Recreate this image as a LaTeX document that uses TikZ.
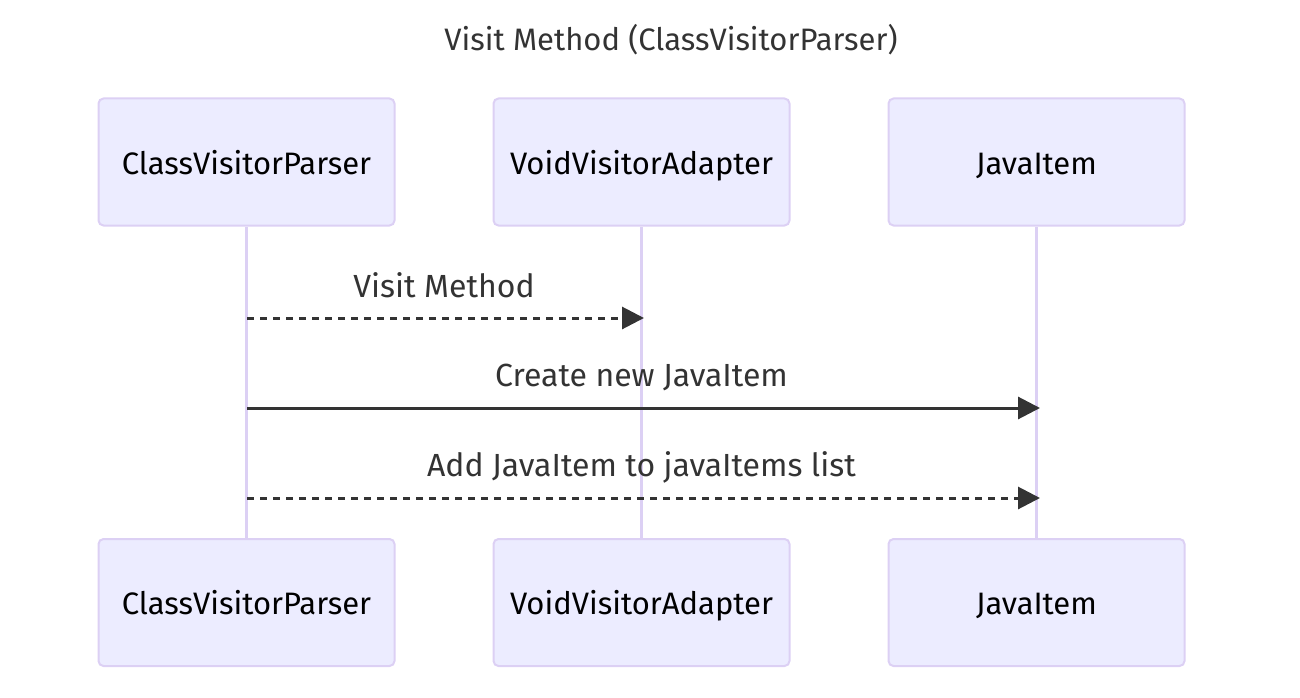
\documentclass[tikz,border=0pt]{standalone}
\usepackage{fontspec}
\setmainfont{Fira Sans}
\usetikzlibrary{arrows.meta}
\definecolor{actorfill}{HTML}{ECECFF}
\definecolor{actorline}{HTML}{DCD0F4}
\definecolor{msgline}{HTML}{333333}
\tikzset{
  actor/.style={draw=actorline, line width=2pt, fill=actorfill, rounded corners=5pt,
    minimum width=296pt, minimum height=127pt, inner sep=0pt,
    text height=28pt, text depth=4pt,
    font=\fontsize{31}{37}\selectfont, text=black},
  lifeline/.style={draw=actorline, line width=3pt},
  msg/.style={draw=msgline, line width=3pt, -{Triangle[length=22pt,width=22pt]}},
  dotmsg/.style={msg, dash pattern=on 7pt off 6pt},
  msglabel/.style={font=\fontsize{32}{38}\selectfont, text=msgline},
  titlelabel/.style={font=\fontsize{31}{37}\selectfont, text=msgline}
}
\begin{document}
\begin{tikzpicture}[x=1pt,y=-1pt]
\useasboundingbox (0,0) rectangle (1300,698);
\node[titlelabel] (title) at (671,40) {Visit Method (ClassVisitorParser)};

\node[actor] (cvpTop) at (246.5,162) {ClassVisitorParser};
\node[actor] (vvaTop) at (641.5,162) {VoidVisitorAdapter};
\node[actor] (jiTop) at (1036.5,162) {JavaItem};
\node[actor] (cvpBot) at (246.5,602.5) {ClassVisitorParser};
\node[actor] (vvaBot) at (641.5,602.5) {VoidVisitorAdapter};
\node[actor] (jiBot) at (1036.5,602.5) {JavaItem};

\draw[lifeline] (cvpTop) -- (cvpBot);
\draw[lifeline] (vvaTop) -- (vvaBot);
\draw[lifeline] (jiTop) -- (jiBot);

\coordinate (cvp1) at (247,318);
\coordinate (vva1) at (644,318);
\coordinate (cvp2) at (247,408);
\coordinate (ji2) at (1040,408);
\coordinate (cvp3) at (247,498);
\coordinate (ji3) at (1040,498);

\draw[dotmsg] (cvp1) -- (vva1);
\draw[msg] (cvp2) -- (ji2);
\draw[dotmsg] (cvp3) -- (ji3);

\node[msglabel] (visit) at (444,285) {Visit Method};
\node[msglabel] (create) at (641.5,377) {Create new JavaItem};
\node[msglabel] (add) at (641.5,467) {Add JavaItem to javaItems list};
\end{tikzpicture}
\end{document}
